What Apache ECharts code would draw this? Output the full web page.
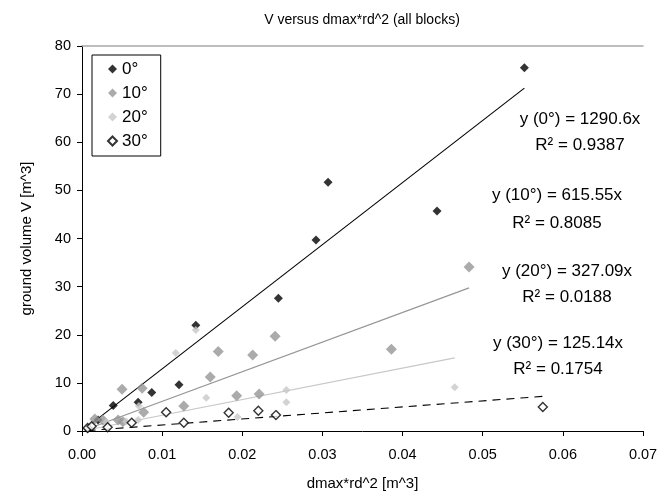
<!DOCTYPE html>
<html>
<head>
<meta charset="utf-8">
<script src="https://cdn.jsdelivr.net/npm/echarts@6/dist/echarts.min.js"></script>
<style>
  html, body { margin: 0; padding: 0; background: #fff; }
  #chart { width: 661px; height: 500px; }
</style>
</head>
<body>
<div id="chart"></div>
<script>
// Measured blocks: [dmax*rd^2 (m^3), ground volume V (m^3)] per slope angle
const blocks0 = [
  [0.0007, 0.5], [0.0020, 2.3], [0.0039, 5.3], [0.0070, 6.0], [0.0087, 8.0],
  [0.0121, 9.6], [0.0142, 22.0], [0.0245, 27.6], [0.0292, 39.7], [0.0307, 51.7],
  [0.0443, 45.7], [0.0552, 75.5]
];
const blocks10 = [
  [0.0016, 2.5], [0.0026, 2.3], [0.0045, 2.3], [0.0051, 1.9], [0.0050, 8.7],
  [0.0075, 8.9], [0.0077, 3.9], [0.0127, 5.2], [0.0160, 11.2], [0.0170, 16.5],
  [0.0193, 7.3], [0.0213, 15.8], [0.0221, 7.7], [0.0241, 19.7], [0.0386, 17.0],
  [0.0483, 34.1]
];
const blocks20 = [
  [0.0008, 0.6], [0.0030, 1.8], [0.0055, 2.0], [0.0070, 2.3], [0.0071, 5.2],
  [0.0117, 16.2], [0.0142, 21.0], [0.0155, 6.9], [0.0194, 2.9], [0.0255, 8.5],
  [0.0255, 6.0], [0.0465, 9.1]
];
const blocks30 = [
  [0.0007, 0.6], [0.0012, 1.0], [0.0032, 0.8], [0.0062, 1.7], [0.0105, 3.9],
  [0.0127, 1.7], [0.0183, 3.8], [0.0220, 4.2], [0.0242, 3.3], [0.0575, 5.0]
];

const seriesNames = ['0°', '10°', '20°', '30°'];
// Trendline slopes (fit through origin) and coefficients of determination
const slopes = [1290.6, 615.55, 327.09, 125.14];
const rSquared = ['0.9387', '0.8085', '0.0188', '0.1754'];

const xTicks = { min: 0, max: 0.07, interval: 0.01 };
const yTicks = { min: 0, max: 80, interval: 10 };

const allBlocks = [blocks0, blocks10, blocks20, blocks30];

const markerStyles = [
  { size: 9,  itemStyle: { color: '#000000' } },
  { size: 11, itemStyle: { color: '#969696' } },
  { size: 8,  itemStyle: { color: '#c8c8c8' } },
  { size: 9,  itemStyle: { color: '#ffffff', borderColor: '#000000', borderWidth: 1.4 } }
];
const trendStyles = [
  { color: '#000000', width: 1.1, type: 'solid' },
  { color: '#969696', width: 1.2, type: 'solid' },
  { color: '#c8c8c8', width: 1.2, type: 'solid' },
  { color: '#000000', width: 1.1, type: [8, 6] }
];

// Trendline spans the x range of its own series
function trendLine(data, k) {
  const xs = data.map(d => d[0]);
  const x0 = Math.min(...xs), x1 = Math.max(...xs);
  return [[x0, k * x0], [x1, k * x1]];
}

const series = [];
allBlocks.forEach((data, i) => {
  series.push({
    name: 'trend ' + seriesNames[i],
    type: 'line',
    data: trendLine(data, slopes[i]),
    showSymbol: false,
    silent: true,
    z: 1,
    lineStyle: trendStyles[i]
  });
});
allBlocks.forEach((data, i) => {
  series.push({
    name: seriesNames[i],
    type: 'scatter',
    symbol: 'diamond',
    symbolSize: markerStyles[i].size,
    itemStyle: markerStyles[i].itemStyle,
    data: data,
    z: 3
  });
});

const font = '"Liberation Sans", Arial, sans-serif';
const eqFont = { fontFamily: font, fontSize: 17, fill: '#000' };

// Equation labels beside the trendlines: [centre x, y of equation line, y of R² line]
const eqPlaces = [[580, 119, 145], [557, 195, 223], [567, 271, 297], [558, 343, 369]];
const graphics = [];
eqPlaces.forEach((p, i) => {
  graphics.push({
    type: 'text', x: p[0], y: p[1],
    style: Object.assign({ text: 'y (' + seriesNames[i] + ') = ' + slopes[i] + 'x', align: 'center', verticalAlign: 'middle' }, eqFont)
  });
  graphics.push({
    type: 'text', x: p[0], y: p[2],
    style: Object.assign({ text: 'R² = ' + rSquared[i], align: 'center', verticalAlign: 'middle' }, eqFont)
  });
});

const chart = echarts.init(document.getElementById('chart'), null, { renderer: 'canvas' });
chart.setOption({
  animation: false,
  backgroundColor: '#ffffff',
  title: {
    text: 'V versus dmax*rd^2 (all blocks)',
    left: 357, top: 8, textAlign: 'center',
    textStyle: { fontFamily: font, fontSize: 14, fontWeight: 'normal', color: '#000' }
  },
  grid: { left: 82, top: 46, right: 18, bottom: 69, containLabel: false },
  legend: {
    data: seriesNames,
    orient: 'vertical',
    left: 92, top: 55,
    padding: [4, 13, 5, 15],
    itemGap: 4,
    itemWidth: 9, itemHeight: 9,
    borderColor: '#000', borderWidth: 1,
    textStyle: { fontFamily: font, fontSize: 17, color: '#000', lineHeight: 20 }
  },
  xAxis: [{
    type: 'value',
    min: xTicks.min, max: xTicks.max, interval: xTicks.interval,
    name: 'dmax*rd^2 [m^3]', nameLocation: 'middle', nameGap: 45,
    nameTextStyle: { fontFamily: font, fontSize: 15, color: '#000' },
    axisLine: { show: true, onZero: false, lineStyle: { color: '#000', width: 1 } },
    axisTick: { show: true, length: 5, lineStyle: { color: '#000' } },
    axisLabel: { fontFamily: font, fontSize: 14.5, color: '#000', margin: 16, formatter: v => v.toFixed(2) },
    splitLine: { show: false }
  }, {
    type: 'value', position: 'top',
    min: xTicks.min, max: xTicks.max,
    axisLine: { show: true, onZero: false, lineStyle: { color: '#a8a8a8', width: 1.5 } },
    axisTick: { show: false }, axisLabel: { show: false }, splitLine: { show: false }
  }],
  yAxis: {
    type: 'value',
    min: yTicks.min, max: yTicks.max, interval: yTicks.interval,
    name: 'ground volume V [m^3]', nameLocation: 'middle', nameGap: 48,
    nameTextStyle: { fontFamily: font, fontSize: 15, color: '#000' },
    axisLine: { show: true, onZero: false, lineStyle: { color: '#000', width: 1 } },
    axisTick: { show: true, length: 5, lineStyle: { color: '#000' } },
    axisLabel: { fontFamily: font, fontSize: 14.5, color: '#000', margin: 11 },
    splitLine: { show: false }
  },
  graphic: graphics,
  series: series
});
</script>
</body>
</html>
